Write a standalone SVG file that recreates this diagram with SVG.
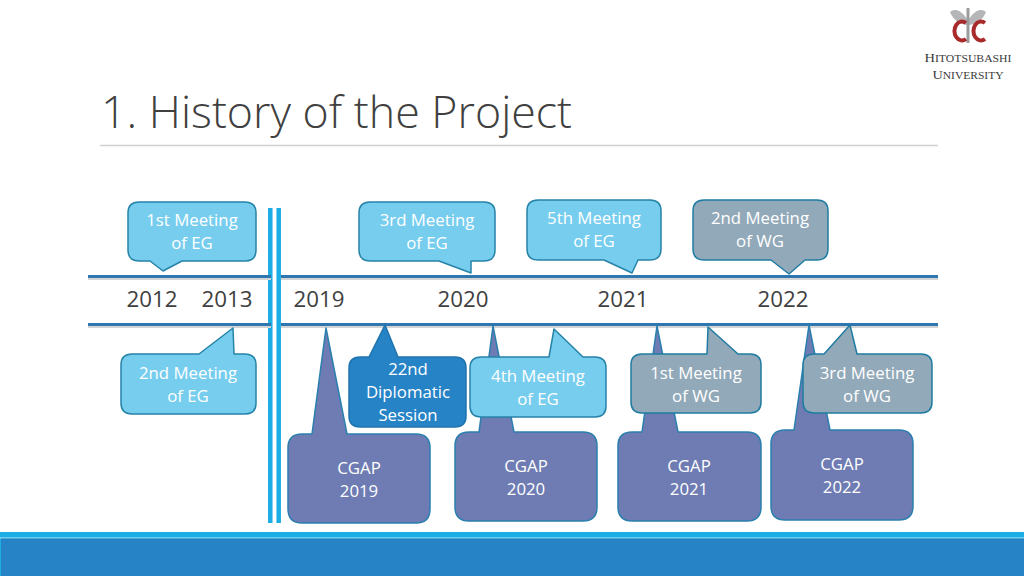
<svg xmlns="http://www.w3.org/2000/svg" width="1024" height="576" viewBox="0 0 1024 576">
<style>
text{font-family:"Open Sans","Noto Sans","Liberation Sans",sans-serif}
.c{stroke-width:1.5;stroke-linejoin:round}
.eg{fill:#76cdee;stroke:#2683a8}
.dp{fill:#2683c6;stroke:#1f74ad}
.cg{fill:#6e7cb3;stroke:#2a7fae}
.wg{fill:#92a9b9;stroke:#1f7ca3}
.l{fill:#fff;font-size:16.800px;text-anchor:middle}
.y{fill:#404040;font-size:22.300px;text-anchor:middle}
.tl{stroke:#2f77b0;stroke-width:3;fill:none}
.sh{stroke:#d4d4d4;stroke-width:2;fill:none}
.v{stroke:#1cade4;stroke-width:4.500;fill:none}
.lg{fill:#3a3a3a;font-family:"Liberation Serif",serif;text-anchor:middle}
</style>
<rect width="1024" height="576" fill="#fff"/>
<g id="logo">
<path d="M967 19C960 8 953 9 950 12C953 20 960 24 967 25Z" fill="#b4b6b8"/>
<path d="M969 19C976 8 983 9 986 12C983 20 976 24 969 25Z" fill="#b4b6b8"/>
<rect x="966.500" y="8" width="3" height="35" fill="#9a9c9e"/>
<path d="M966 23A7.500 9.500 0 1 0 966 39" fill="none" stroke="#a82a2a" stroke-width="4"/>
<path d="M985 23A7.500 9.500 0 1 0 985 39" fill="none" stroke="#a82a2a" stroke-width="4"/>
<text class="lg" x="968" y="62" font-size="13" textLength="87" lengthAdjust="spacingAndGlyphs">H<tspan font-size="10.500">ITOTSUBASHI</tspan></text>
<text class="lg" x="968" y="79" font-size="13" textLength="71" lengthAdjust="spacingAndGlyphs">U<tspan font-size="10.500">NIVERSITY</tspan></text>
</g>
<g id="title">
<text x="101" y="128" font-size="44" font-weight="300" fill="#404040" textLength="471" lengthAdjust="spacingAndGlyphs">1. History of the Project</text>
<line x1="100" y1="145.500" x2="938" y2="145.500" stroke="#d0d0d0" stroke-width="1.500"/>
</g>
<g id="connectors">
<path class="v" d="M270.300 208V523M278.700 208V523"/>
<path class="sh" d="M88 279H271M281 279H938M88 327H271M281 327H938"/>
<path class="tl" d="M88 276.500H271M281 276.500H938M88 324.500H271M281 324.500H938"/>
</g>
<g id="years">
<text class="y" x="152" y="307">2012</text>
<text class="y" x="227" y="307">2013</text>
<text class="y" x="319" y="307">2019</text>
<text class="y" x="463" y="307">2020</text>
<text class="y" x="623" y="307">2021</text>
<text class="y" x="783" y="307">2022</text>
</g>
<g id="cgap2019"><path class="c cg" d="M302 434H312L326 328L347 434H416Q430 434 430 448V509Q430 523 416 523H302Q288 523 288 509V448Q288 434 302 434Z"/><text class="l" x="359" y="474">CGAP</text><text class="l" x="359" y="497">2019</text></g>
<g id="cgap2020"><path class="c cg" d="M469 432H479L493 326L514 432H583Q597 432 597 446V507Q597 521 583 521H469Q455 521 455 507V446Q455 432 469 432Z"/><text class="l" x="526" y="472">CGAP</text><text class="l" x="526" y="495">2020</text></g>
<g id="cgap2021"><path class="c cg" d="M632 432H642L657 326L678 432H747Q761 432 761 446V507Q761 521 747 521H632Q618 521 618 507V446Q618 432 632 432Z"/><text class="l" x="689" y="472">CGAP</text><text class="l" x="689" y="495">2021</text></g>
<g id="cgap2022"><path class="c cg" d="M785 430H794L809 325L830 430H899Q913 430 913 444V506Q913 520 899 520H785Q771 520 771 506V444Q771 430 785 430Z"/><text class="l" x="842" y="470">CGAP</text><text class="l" x="842" y="493">2022</text></g>
<g id="eg1"><path class="c eg" d="M139 202H245Q256 202 256 213V250Q256 261 245 261H182L163 271L150 261H139Q128 261 128 250V213Q128 202 139 202Z"/><text class="l" x="192" y="226">1st Meeting</text><text class="l" x="192" y="249">of EG</text></g>
<g id="eg3"><path class="c eg" d="M370 202H484Q495 202 495 213V250Q495 261 484 261H471L471 273L439 261H370Q359 261 359 250V213Q359 202 370 202Z"/><text class="l" x="427" y="226">3rd Meeting</text><text class="l" x="427" y="249">of EG</text></g>
<g id="eg5"><path class="c eg" d="M538 200H650Q661 200 661 211V249Q661 260 650 260H638L632 273L604 260H538Q527 260 527 249V211Q527 200 538 200Z"/><text class="l" x="594" y="224">5th Meeting</text><text class="l" x="594" y="247">of EG</text></g>
<g id="wg2"><path class="c wg" d="M704 200H817Q828 200 828 211V249Q828 260 817 260H805L789 274L771 260H704Q693 260 693 249V211Q693 200 704 200Z"/><text class="l" x="760" y="224">2nd Meeting</text><text class="l" x="760" y="247">of WG</text></g>
<g id="eg2"><path class="c eg" d="M132 354H199L233 328L234 354H245Q256 354 256 365V403Q256 414 245 414H132Q121 414 121 403V365Q121 354 132 354Z"/><text class="l" x="188" y="379">2nd Meeting</text><text class="l" x="188" y="402">of EG</text></g>
<g id="dip"><path class="c dp" d="M360 357H369L385 325L398 357H455Q466 357 466 368V416Q466 427 455 427H360Q349 427 349 416V368Q349 357 360 357Z"/><text class="l" x="408" y="375">22nd</text><text class="l" x="408" y="398">Diplomatic</text><text class="l" x="408" y="421">Session</text></g>
<g id="eg4"><path class="c eg" d="M481 357H549L554 329L583 357H595Q606 357 606 368V406Q606 417 595 417H481Q470 417 470 406V368Q470 357 481 357Z"/><text class="l" x="538" y="382">4th Meeting</text><text class="l" x="538" y="405">of EG</text></g>
<g id="wg1"><path class="c wg" d="M642 354H707L708 327L738 354H750Q761 354 761 365V402Q761 413 750 413H642Q631 413 631 402V365Q631 354 642 354Z"/><text class="l" x="696" y="379">1st Meeting</text><text class="l" x="696" y="402">of WG</text></g>
<g id="wg3"><path class="c wg" d="M814 354H824L850 325L857 354H921Q932 354 932 365V402Q932 413 921 413H814Q803 413 803 402V365Q803 354 814 354Z"/><text class="l" x="867" y="379">3rd Meeting</text><text class="l" x="867" y="402">of WG</text></g>
<g id="footer">
<rect x="0" y="532" width="1024" height="6" fill="#1cade4"/>
<rect x="0" y="537" width="1024" height="1.500" fill="#6fcdf0"/>
<rect x="0" y="538.500" width="1024" height="37.500" fill="#1cade4"/>
<rect x="1" y="538.500" width="1023" height="37.500" fill="#2683c6"/>
</g>
</svg>
